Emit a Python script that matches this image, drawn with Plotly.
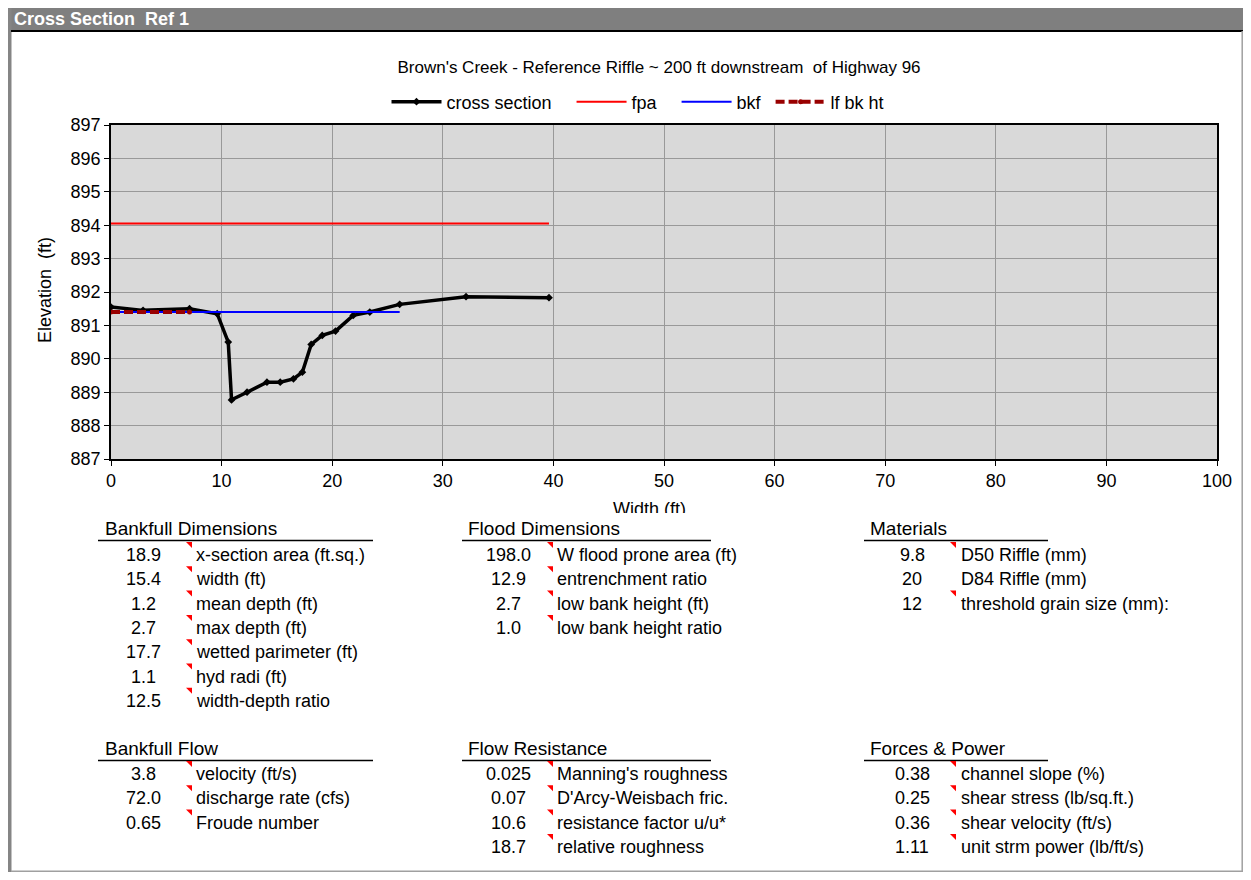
import plotly.graph_objects as go

# page body keeps its default 8px margin; the figure fills the rest of the window
OFF = 8
W, H = 1251 - 2 * OFF, 880 - 2 * OFF

# ---------------- data ----------------
xs_station = [0.0, 2.9, 7.1, 9.6, 10.6, 10.9, 12.3, 14.1, 15.3, 16.5, 17.3, 18.1, 19.1, 20.3, 21.9, 23.4, 26.1, 32.1, 39.6]
xs_elev = [891.55, 891.45, 891.5, 891.35, 890.5, 888.77, 889.0, 889.3, 889.3, 889.4, 889.6, 890.43, 890.7, 890.83, 891.3, 891.4, 891.63, 891.86, 891.83]
fpa_station = [0.0, 39.6]
fpa_elev = [894.05, 894.05]
bkf_station = [0.0, 26.1]
bkf_elev = [891.4, 891.4]
lfbk_station = [0.0, 7.1]
lfbk_elev = [891.4, 891.4]

series_names = ["cross section", "fpa", "bkf", "lf bk ht"]

chart_title = "Brown's Creek - Reference Riffle ~ 200 ft downstream  of Highway 96"
window_title = "Cross Section  Ref 1"

bankfull_dim_header = "Bankfull Dimensions"
bankfull_dim_values = ["18.9", "15.4", "1.2", "2.7", "17.7", "1.1", "12.5"]
bankfull_dim_labels = ["x-section area (ft.sq.)", "width (ft)", "mean depth (ft)", "max depth (ft)",
                       "wetted parimeter (ft)", "hyd radi (ft)", "width-depth ratio"]
bankfull_dim_flags = [1, 1, 1, 1, 1, 1, 1]

flood_dim_header = "Flood Dimensions"
flood_dim_values = ["198.0", "12.9", "2.7", "1.0"]
flood_dim_labels = ["W flood prone area (ft)", "entrenchment ratio", "low bank height (ft)", "low bank height ratio"]
flood_dim_flags = [1, 1, 1, 1]

materials_header = "Materials"
materials_values = ["9.8", "20", "12"]
materials_labels = ["D50 Riffle (mm)", "D84 Riffle (mm)", "threshold grain size (mm):"]
materials_flags = [1, 0, 1]

bankfull_flow_header = "Bankfull Flow"
bankfull_flow_values = ["3.8", "72.0", "0.65"]
bankfull_flow_labels = ["velocity (ft/s)", "discharge rate (cfs)", "Froude number"]
bankfull_flow_flags = [1, 1, 1]

flow_res_header = "Flow Resistance"
flow_res_values = ["0.025", "0.07", "10.6", "18.7"]
flow_res_labels = ["Manning's roughness", "D'Arcy-Weisbach fric.", "resistance factor u/u*", "relative roughness"]
flow_res_flags = [1, 1, 1, 1]

forces_header = "Forces & Power"
forces_values = ["0.38", "0.25", "0.36", "1.11"]
forces_labels = ["channel slope (%)", "shear stress (lb/sq.ft.)", "shear velocity (ft/s)", "unit strm power (lb/ft/s)"]
forces_flags = [1, 1, 1, 1]

FONT = "Liberation Sans, Arial, sans-serif"
NB = "\u00a0"
legend_pad = [3, 3, 1, 0]  # extra spacing after each legend entry, like the reference


def px(x):
    # window pixel x -> paper fraction
    return (x - OFF) / W


def py(y):
    # window pixel y -> paper fraction
    return 1 - (y - OFF) / H


def lname(i):
    return series_names[i] + NB * legend_pad[i]


fig = go.Figure()

fig.add_trace(go.Scatter(x=xs_station, y=xs_elev, name=lname(0), mode="lines+markers",
                         line=dict(color="black", width=3.5),
                         marker=dict(symbol="diamond", size=6, color="black")))
fig.add_trace(go.Scatter(x=fpa_station, y=fpa_elev, name=lname(1), mode="lines",
                         line=dict(color="#FF0000", width=2)))
fig.add_trace(go.Scatter(x=bkf_station, y=bkf_elev, name=lname(2), mode="lines",
                         line=dict(color="#0000FF", width=2)))
fig.add_trace(go.Scatter(x=lfbk_station, y=lfbk_elev, name=lname(3), mode="lines+markers",
                         line=dict(color="#990000", width=4, dash="9px,4px"),
                         marker=dict(symbol="circle", size=5, color="#990000")))

# x-axis title, clipped at the bottom like the reference (drawn on an invisible overlay subplot)
fig.add_trace(go.Scatter(x=[48.7], y=[0.1], mode="text", text=["Width (ft)"],
                         textfont=dict(family=FONT, size=18, color="black"),
                         textposition="middle center", cliponaxis=True, showlegend=False,
                         hoverinfo="skip", xaxis="x2", yaxis="y2"))

shapes = []
annotations = []

# plot-area background (drawn as a shape so the overlay subplot stays transparent)
shapes.append(dict(type="rect", xref="paper", yref="paper", x0=px(111), x1=px(1217), y0=py(459), y1=py(125),
                   fillcolor="#D9D9D9", line=dict(width=0), layer="below"))

# window frame
shapes.append(dict(type="rect", xref="paper", yref="paper", x0=px(8), x1=px(1260), y0=py(30), y1=py(0),
                   fillcolor="#7F7F7F", line=dict(width=0), layer="below"))
shapes.append(dict(type="line", xref="paper", yref="paper", x0=px(11), x1=px(1260), y0=py(31), y1=py(31),
                   line=dict(color="black", width=2)))
shapes.append(dict(type="rect", xref="paper", yref="paper", x0=px(8), x1=px(11.5), y0=py(890), y1=py(0),
                   fillcolor="#858585", line=dict(width=0), layer="below"))
shapes.append(dict(type="line", xref="paper", yref="paper", x0=px(1242.2), x1=px(1242.2), y0=py(872), y1=py(31),
                   line=dict(color="#A0A0A0", width=1.5)))
shapes.append(dict(type="line", xref="paper", yref="paper", x0=px(11), x1=px(1243), y0=py(871.2), y1=py(871.2),
                   line=dict(color="#A0A0A0", width=1.5)))

annotations.append(dict(text="<b>" + window_title + "</b>", x=px(12), y=py(19), xref="paper", yref="paper",
                        xanchor="left", yanchor="middle", showarrow=False,
                        font=dict(family=FONT, size=18, color="white")))

# y-axis title
annotations.append(dict(text="Elevation  (ft)", x=px(45), y=py(290), xref="paper", yref="paper",
                        xanchor="center", yanchor="middle", textangle=-90, showarrow=False,
                        font=dict(family=FONT, size=18, color="black")))

# tables
blocks = [
    (bankfull_dim_header, bankfull_dim_values, bankfull_dim_labels, bankfull_dim_flags, 0, 0),
    (flood_dim_header, flood_dim_values, flood_dim_labels, flood_dim_flags, 1, 0),
    (materials_header, materials_values, materials_labels, materials_flags, 2, 0),
    (bankfull_flow_header, bankfull_flow_values, bankfull_flow_labels, bankfull_flow_flags, 0, 1),
    (flow_res_header, flow_res_values, flow_res_labels, flow_res_flags, 1, 1),
    (forces_header, forces_values, forces_labels, forces_flags, 2, 1),
]
col_header_x = [103, 466, 868]
col_line = [(98, 373), (462, 711), (864, 1048)]
col_value_cx = [143, 508, 912]
col_label_x = [194, 555, 959]
col_tri = [(186, 192), (547, 553), (950, 956)]
row_header_y = [528, 748]
row_line_y = [540.5, 760.5]
row_first_y = [555, 774]
row_step = 24.3

for header, vals, labs, flags, c, r in blocks:
    annotations.append(dict(text=header, x=px(col_header_x[c]), y=py(row_header_y[r]), xref="paper", yref="paper",
                            xanchor="left", yanchor="middle", showarrow=False,
                            font=dict(family=FONT, size=19, color="black")))
    shapes.append(dict(type="line", xref="paper", yref="paper", x0=px(col_line[c][0]), x1=px(col_line[c][1]),
                       y0=py(row_line_y[r]), y1=py(row_line_y[r]), line=dict(color="black", width=1.5)))
    for i, (v, lab, fl) in enumerate(zip(vals, labs, flags)):
        yy = row_first_y[r] + i * row_step
        annotations.append(dict(text=v, x=px(col_value_cx[c]), y=py(yy), xref="paper", yref="paper",
                                xanchor="center", yanchor="middle", showarrow=False,
                                font=dict(family=FONT, size=18, color="black")))
        annotations.append(dict(text=lab, x=px(col_label_x[c]), y=py(yy), xref="paper", yref="paper",
                                xanchor="left", yanchor="middle", showarrow=False,
                                font=dict(family=FONT, size=18, color="black")))
        if fl:
            x0, x1 = col_tri[c]
            t, b = yy - 13, yy - 7
            path = "M {} {} L {} {} L {} {} Z".format(px(x0), py(t), px(x1), py(t), px(x1), py(b))
            shapes.append(dict(type="path", xref="paper", yref="paper", path=path,
                               fillcolor="#FF0000", line=dict(width=0)))

xdom = [px(111), px(1217)]
ydom = [py(459), py(125)]

fig.update_layout(
    autosize=True,
    margin=dict(l=0, r=0, t=0, b=0, pad=0, autoexpand=False),
    paper_bgcolor="white",
    plot_bgcolor="rgba(0,0,0,0)",
    font=dict(family=FONT, size=18, color="black"),
    title=dict(text=chart_title, x=px(659), xanchor="center", y=py(67), yanchor="middle",
               font=dict(family=FONT, size=17, color="black")),
    showlegend=True,
    legend=dict(orientation="h", x=px(638), xanchor="center", y=py(102), yanchor="middle",
                font=dict(family=FONT, size=18, color="black"), bgcolor="rgba(0,0,0,0)",
                itemwidth=50),
    xaxis=dict(domain=xdom, range=[0, 100], dtick=10, tick0=0, showgrid=True, gridcolor="#999999", gridwidth=1,
               showline=True, linecolor="black", linewidth=1.5, mirror=True, ticks="outside", ticklen=5,
               tickcolor="black", zeroline=False, tickfont=dict(family=FONT, size=18), fixedrange=True,
               automargin=False),
    yaxis=dict(domain=ydom, range=[887, 897], dtick=1, tick0=887, showgrid=True, gridcolor="#999999", gridwidth=1,
               showline=True, linecolor="black", linewidth=1.5, mirror=True, ticks="outside", ticklen=5,
               tickcolor="black", zeroline=False, tickfont=dict(family=FONT, size=18), fixedrange=True,
               automargin=False),
    xaxis2=dict(domain=xdom, range=[0, 100], visible=False, anchor="y2", fixedrange=True),
    yaxis2=dict(domain=[py(513), py(490)], range=[0, 1], visible=False, anchor="x2", fixedrange=True),
    shapes=shapes,
    annotations=annotations,
)

fig.write_html("out.html", config={"displayModeBar": False, "responsive": True},
               default_width="100%", default_height="calc(100vh - 16px)")
